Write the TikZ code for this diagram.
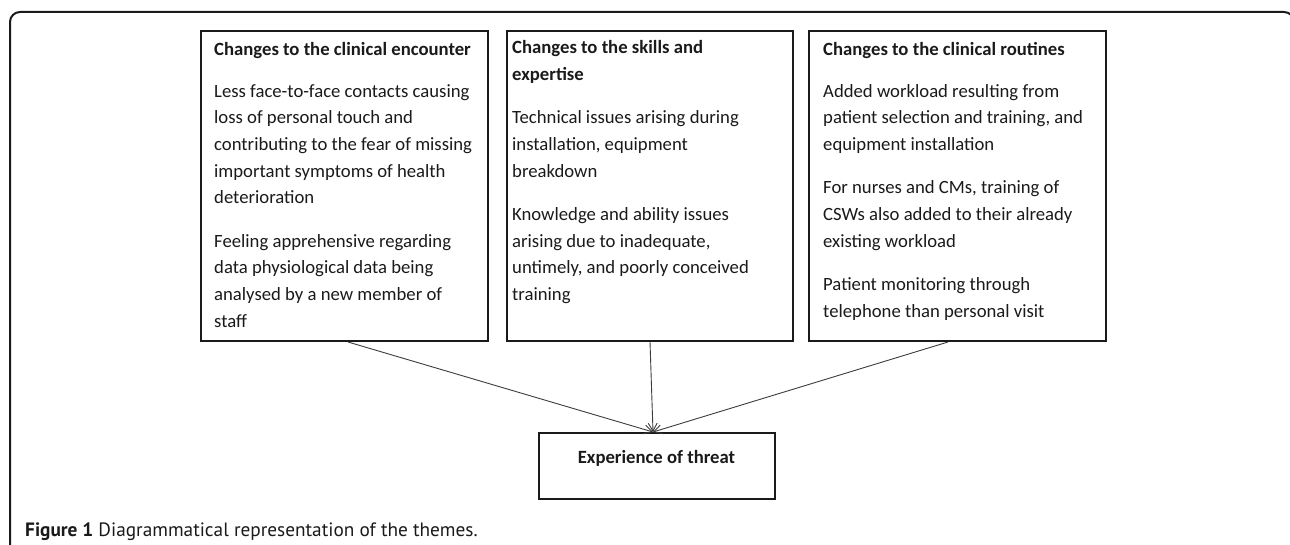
\documentclass[tikz,border=0pt]{standalone}
\usepackage{fontspec}
\setmainfont{Carlito}
\newfontfamily\capfont{PT Sans}
\usetikzlibrary{arrows.meta,calc}
\definecolor{ink}{HTML}{1A1A1A}
\begin{document}
\begin{tikzpicture}[x=1pt,y=-1pt,
  frame/.style={draw=ink,line width=2pt,rounded corners=10pt},
  themebox/.style={draw=ink,line width=2pt,rectangle,inner sep=0pt,anchor=north west},
  boxtext/.style={anchor=north west,inner sep=0pt,align=left,text=ink,font=\fontsize{18.7}{26.7}\selectfont},
  conn/.style={draw=ink!85,line width=0.9pt,-{Straight Barb[length=8pt,width=9pt]}}
]
\useasboundingbox (0,0) rectangle (1290,545);
\draw[frame] (10,570) -- (10,12) -- (1294,12) -- (1294,570);

\node[themebox,minimum width=287pt,minimum height=310pt] (b1) at (200,30) {};
\node[themebox,minimum width=286pt,minimum height=310pt] (b2) at (506,30) {};
\node[themebox,minimum width=297pt,minimum height=310pt] (b3) at (808,30) {};
\node[themebox,minimum width=236pt,minimum height=66pt] (e) at (538,432) {};

\node[boxtext] (t1) at (214,42) {\textbf{Changes to the clinical encounter}\\[15pt]
Less face-to-face contacts causing\\
loss of personal touch and\\
contributing to the fear of missing\\
important symptoms of health\\
deterioration\\[16.6pt]
Feeling apprehensive regarding\\
data physiological data being\\
analysed by a new member of\\
staff};

\node[boxtext] (t2) at (512,40.5) {\textbf{Changes to the skills and}\\
\textbf{expertise}\\[16.6pt]
Technical issues arising during\\
installation, equipment\\
breakdown\\[16.6pt]
Knowledge and ability issues\\
arising due to inadequate,\\
untimely, and poorly conceived\\
training};

\node[boxtext] (t3) at (823,42) {\textbf{Changes to the clinical routines}\\[15pt]
Added workload resulting from\\
patient selection and training, and\\
equipment installation\\[16.6pt]
For nurses and CMs, training of\\
CSWs also added to their already\\
existing workload\\[16.6pt]
Patient monitoring through\\
telephone than personal visit};

\node[text=ink,font=\fontsize{18.7}{22}\selectfont\bfseries,inner sep=0pt] (et) at (656.5,458) {Experience of threat};

\coordinate (tip) at ($(e.north)+(-4,0)$);
\coordinate (s1) at ($(b1.south)+(3.5,0)$);
\coordinate (s3) at ($(b3.south)+(-9.5,0)$);
\draw[conn] (s1) -- (tip);
\draw[conn] (b2.south) -- (tip);
\draw[conn] (s3) -- (tip);

\node[anchor=base west,inner sep=0pt,text=ink,font=\capfont\fontsize{19.3}{22}\selectfont] (cap) at (25,536) {\textbf{Figure 1} Diagrammatical representation of the themes.};
\end{tikzpicture}
\end{document}
